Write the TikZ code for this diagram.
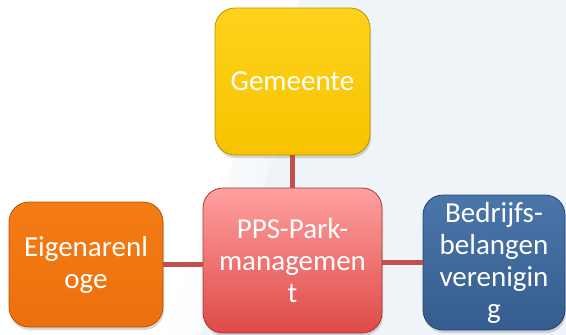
\documentclass[tikz,border=0pt]{standalone}
\usepackage{fontspec}
\setmainfont{Carlito}
\usetikzlibrary{shadows}
\definecolor{bgblue}{HTML}{EEF4F8}
\definecolor{linkred}{HTML}{C0504D}
\definecolor{gemtop}{HTML}{FFD21C}
\definecolor{gembot}{HTML}{F7C300}
\definecolor{orgtop}{HTML}{F47C14}
\definecolor{orgbot}{HTML}{EC700E}
\definecolor{ppstop}{HTML}{FFA0A0}
\definecolor{ppsbot}{HTML}{DE4A47}
\definecolor{bluetop}{HTML}{4B76AA}
\definecolor{bluebot}{HTML}{355C8E}
\tikzstyle{box}=[rectangle,rounded corners=20pt,align=center,text=white,
  font=\fontsize{29}{32}\selectfont,inner sep=0,line width=0.8pt,
  drop shadow={opacity=0.3,shadow xshift=1pt,shadow yshift=-3pt}]
\tikzstyle{link}=[linkred,line width=5pt]
\begin{document}
\begin{tikzpicture}[x=1pt,y=-1pt]
\useasboundingbox (0,0) rectangle (566,335);
\fill[white] (0,0) rectangle (566,335);
% soft background on the right
\fill[bgblue] (340,0)--(566,0)--(566,335)--(200,335)--cycle;
\shade[left color=white,right color=bgblue] (300,0)--(340,0)--(200,335)--(160,335)--cycle;

\node[box,minimum width=155pt,minimum height=147pt,top color=gemtop,bottom color=gembot,draw=gembot!75!black] (gem) at (292.5,81.5) {Gemeente};
\node[box,minimum width=179pt,minimum height=145pt,top color=ppstop,bottom color=ppsbot,draw=ppsbot!75!black] (pps) at (292.5,260.5) {PPS-Park-\\managemen\\t};
\node[box,minimum width=154pt,minimum height=125pt,top color=orgtop,bottom color=orgbot,draw=orgbot!75!black] (eig) at (86,264.5) {Eigenarenl\\oge};
\node[box,minimum width=142pt,minimum height=135pt,top color=bluetop,bottom color=bluebot,draw=bluebot!75!black] (bed) at (494,262.5) {Bedrijfs-\\belangen\\verenigin\\g};

\draw[link] (gem.south) -- (pps.north);
\draw[link] (eig.east) -- (eig.east -| pps.west);
\draw[link] (pps.east |- bed.west) -- (bed.west);
\end{tikzpicture}
\end{document}
